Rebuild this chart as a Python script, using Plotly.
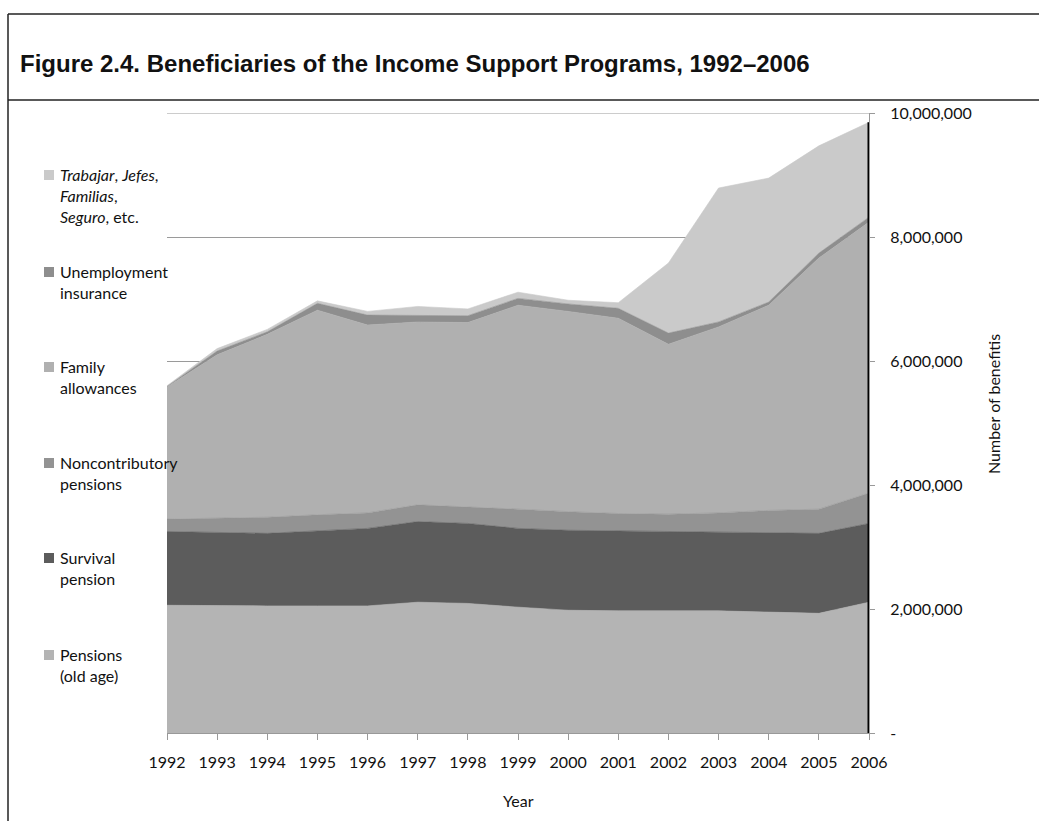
import plotly.graph_objects as go

# Beneficiaries of income support programs, by program (number of benefits)
years = [1992, 1993, 1994, 1995, 1996, 1997, 1998, 1999, 2000, 2001, 2002, 2003, 2004, 2005, 2006]

pensions_old_age = [2060000, 2050000, 2050000, 2050000, 2050000, 2110000, 2090000, 2030000,
                    1980000, 1970000, 1970000, 1970000, 1950000, 1930000, 2110000]
survival_pension = [1190000, 1180000, 1170000, 1210000, 1250000, 1300000, 1290000, 1270000,
                    1290000, 1290000, 1280000, 1280000, 1280000, 1290000, 1270000]
noncontributory = [200000, 230000, 260000, 260000, 250000, 270000, 270000, 310000,
                   300000, 280000, 280000, 300000, 360000, 390000, 490000]
family_allowances = [2130000, 2640000, 2950000, 3300000, 3030000, 2950000, 2970000, 3290000,
                     3230000, 3150000, 2740000, 3000000, 3310000, 4050000, 4370000]
unemployment_ins = [10000, 60000, 40000, 110000, 160000, 110000, 110000, 110000,
                    120000, 160000, 180000, 80000, 50000, 80000, 80000]
trabajar_etc = [10000, 40000, 40000, 40000, 60000, 140000, 110000, 100000,
                60000, 90000, 1130000, 2160000, 2000000, 1730000, 1530000]

y_tick_vals = [0, 2000000, 4000000, 6000000, 8000000, 10000000]
y_tick_text = ["-", "2,000,000", "4,000,000", "6,000,000", "8,000,000", "10,000,000"]

title_text = "Figure 2.4. Beneficiaries of the Income Support Programs, 1992–2006"
x_title = "Year"
y_title = "Number of benefitis"

# Series, bottom of the stack first: (name, values, fill colour, legend label)
series = [
    ("Pensions (old age)", pensions_old_age, "#b4b4b4", "Pensions<br>(old age)"),
    ("Survival pension", survival_pension, "#5c5c5c", "Survival<br>pension"),
    ("Noncontributory pensions", noncontributory, "#939393", "Noncontributory<br>pensions"),
    ("Family allowances", family_allowances, "#b0b0b0", "Family<br>allowances"),
    ("Unemployment insurance", unemployment_ins, "#8e8e8e", "Unemployment<br>insurance"),
    ("Trabajar, Jefes, Familias, Seguro, etc.", trabajar_etc, "#cacaca",
     "<i>Trabajar</i>, <i>Jefes</i>,<br><i>Familias</i>,<br><i>Seguro</i>, etc."),
]

W, H = 1039, 821
PL, PR, PT, PB = 167, 869, 113, 733  # plot-area edges in pixels


def px(xp):
    return (xp - PL) / (PR - PL)


def py(yp):
    return (PB - yp) / (PB - PT)


FONT = "Lato, 'Open Sans', sans-serif"
GRID = "#9a9a9a"

fig = go.Figure()

for name, vals, color, _ in series:
    fig.add_trace(go.Scatter(
        x=years, y=vals, name=name, mode="lines",
        stackgroup="one", fillcolor=color,
        line=dict(width=0.6, color=color),
        showlegend=False, hoverinfo="x+y+name",
    ))

# heavy edge at the last year, up to the stacked total
totals = [sum(s[1][i] for s in series) for i in range(len(years))]
fig.add_trace(go.Scatter(
    x=[years[-1], years[-1]], y=[0, totals[-1]], mode="lines",
    line=dict(color="black", width=3), showlegend=False, hoverinfo="skip",
))

shapes = []
annotations = []

# top gridline sits on the edge of the plot area, so draw it explicitly
shapes.append(dict(type="line", xref="x", yref="y",
                   x0=years[0], x1=years[-1], y0=y_tick_vals[-1], y1=y_tick_vals[-1],
                   line=dict(color=GRID, width=1), layer="below"))

# frame: left rule, top rule and the rule under the title
shapes.append(dict(type="line", xref="paper", yref="paper",
                   x0=px(8), x1=px(8), y0=py(14), y1=py(821),
                   line=dict(color="#222", width=1.5)))
shapes.append(dict(type="line", xref="paper", yref="paper",
                   x0=px(8), x1=px(1039), y0=py(14), y1=py(14),
                   line=dict(color="#222", width=1.5)))
shapes.append(dict(type="line", xref="paper", yref="paper",
                   x0=px(8), x1=px(1039), y0=py(100), y1=py(100),
                   line=dict(color="#222", width=1.5)))

annotations.append(dict(
    text=f"<b>{title_text}</b>", xref="paper", yref="paper",
    x=px(18), y=py(63), xanchor="left", yanchor="middle", showarrow=False,
    font=dict(family="Liberation Sans, Arial, sans-serif", size=24, color="#111"),
))

# legend down the left side, top entry first
legend_rows = [175, 272, 367, 463, 558, 655]
for (name, vals, color, label), yrow in zip(reversed(series), legend_rows):
    shapes.append(dict(type="rect", xref="paper", yref="paper",
                       x0=px(44), x1=px(54), y0=py(yrow - 5), y1=py(yrow + 5),
                       fillcolor=color, line=dict(width=0)))
    annotations.append(dict(
        text=label, xref="paper", yref="paper",
        x=px(58), y=py(yrow - 12), xanchor="left", yanchor="top",
        align="left", showarrow=False,
        font=dict(family=FONT, size=16, color="#111"),
    ))

annotations.append(dict(
    text=x_title, xref="paper", yref="paper", x=px(518), y=py(800),
    xanchor="center", yanchor="middle", showarrow=False,
    font=dict(family=FONT, size=16, color="#111"),
))
annotations.append(dict(
    text=y_title, xref="paper", yref="paper", x=px(993), y=py(404),
    xanchor="center", yanchor="middle", showarrow=False, textangle=-90,
    font=dict(family=FONT, size=16, color="#111"),
))

fig.update_layout(
    width=W, height=H,
    margin=dict(l=PL, r=W - PR, t=PT, b=H - PB, pad=0),
    paper_bgcolor="white", plot_bgcolor="white",
    font=dict(family=FONT, size=16, color="#111"),
    shapes=shapes, annotations=annotations,
    showlegend=False,
)

fig.update_xaxes(
    range=[years[0], years[-1]], tickvals=years, ticktext=[str(y) for y in years],
    showgrid=False, zeroline=False, showline=True, linecolor="#999", linewidth=1,
    ticks="outside", ticklen=6, tickcolor="#999",
    ticklabelstandoff=9, tickfont=dict(family=FONT, size=16, color="#111"),
)
fig.update_yaxes(
    range=[0, 10000000], side="right", tickvals=y_tick_vals, ticktext=y_tick_text,
    showgrid=True, gridcolor=GRID, gridwidth=1, zeroline=False,
    showline=True, linecolor="#999", linewidth=1,
    ticks="outside", ticklen=5, tickcolor="#999",
    ticklabelstandoff=12, tickfont=dict(family=FONT, size=16, color="#111"),
)

fig.write_html("out.html")
